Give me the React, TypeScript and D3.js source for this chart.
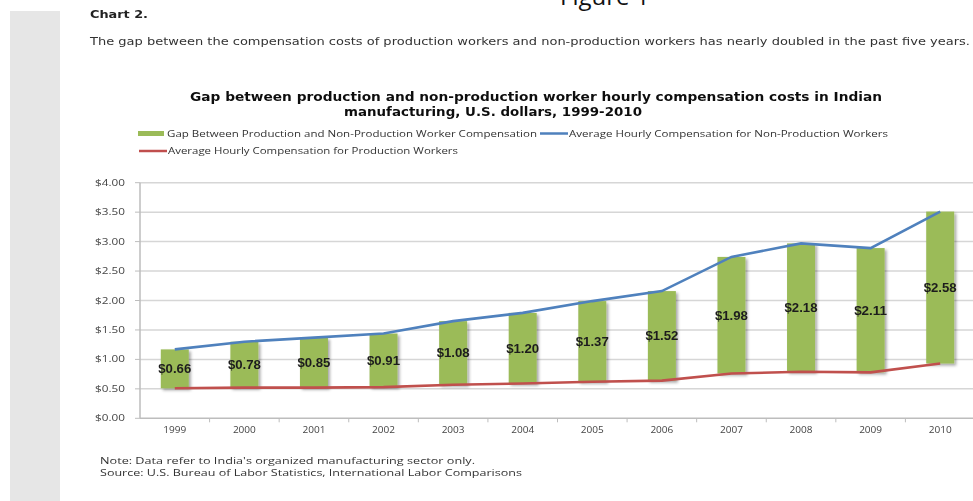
import React from "react";
import * as d3 from "d3";

const years = ["1999", "2000", "2001", "2002", "2003", "2004", "2005", "2006", "2007", "2008", "2009", "2010"];
const gapValues = [0.66, 0.78, 0.85, 0.91, 1.08, 1.2, 1.37, 1.52, 1.98, 2.18, 2.11, 2.58];
const productionValues = [0.51, 0.52, 0.52, 0.53, 0.57, 0.59, 0.62, 0.64, 0.76, 0.79, 0.78, 0.93];
const nonProductionValues = [1.17, 1.3, 1.37, 1.44, 1.65, 1.79, 1.99, 2.16, 2.74, 2.97, 2.89, 3.51];
const yTicks = [0, 0.5, 1, 1.5, 2, 2.5, 3, 3.5, 4];

const W = 973;
const H = 501;
const GREEN = "#9bbb59";
const BLUE = "#4f81bd";
const RED = "#c0504d";
const SANS = "'DejaVu Sans', Verdana, sans-serif";
const CAL = "'Open Sans', 'Liberation Sans', sans-serif";

export default function App() {
  const xb = d3.scaleBand<string>().domain(years).range([140, 975]);
  const y = d3.scaleLinear().domain([0, 4]).range([418.3, 182.7]);
  const fmt = d3.format("$.2f");
  const cx = (i: number) => (xb(years[i]) as number) + xb.bandwidth() / 2;

  const line = d3
    .line<number>()
    .x((_, i) => cx(i))
    .y((d) => y(d));

  return (
    <div style={{ position: "absolute", left: 0, top: 0 }}>
      <svg width={W} height={H} style={{ display: "block", background: "#fff" }}>
        <defs>
          <filter id="sh" x="-30%" y="-10%" width="170%" height="130%">
            <feDropShadow dx="2" dy="2" stdDeviation="1.5" floodColor="#000" floodOpacity="0.35" />
          </filter>
          <filter id="blur" x="-5%" y="-20%" width="110%" height="140%">
            <feGaussianBlur stdDeviation="0.35" />
          </filter>
        </defs>
        <rect x={10} y={11} width={50} height={H - 11} fill="#e6e6e6" />

        <text x={560} y={5} fontFamily={CAL} fontSize={24} fill="#111">Figure 1</text>

        <g filter="url(#blur)">
          <text x={90} y={18} fontFamily={SANS} fontSize={10.5} fontWeight="bold" fill="#222" textLength={58} lengthAdjust="spacingAndGlyphs">Chart 2.</text>
          <text x={90} y={45} fontFamily={SANS} fontSize={10.5} fill="#333" textLength={880} lengthAdjust="spacingAndGlyphs">
            The gap between the compensation costs of production workers and non-production workers has nearly doubled in the past five years.
          </text>

          <text x={190} y={101} fontFamily={SANS} fontSize={12.5} fontWeight="bold" fill="#111" textLength={692} lengthAdjust="spacingAndGlyphs">
            Gap between production and non-production worker hourly compensation costs in Indian
          </text>
          <text x={344} y={116} fontFamily={SANS} fontSize={12.5} fontWeight="bold" fill="#111" textLength={298} lengthAdjust="spacingAndGlyphs">
            manufacturing, U.S. dollars, 1999-2010
          </text>

          {/* legend */}
          <rect x={138} y={131} width={26} height={5} fill={GREEN} />
          <text x={167} y={137} fontFamily={CAL} fontSize={9.5} fill="#333" textLength={370} lengthAdjust="spacingAndGlyphs">
            Gap Between Production and Non-Production Worker Compensation
          </text>
          <line x1={540} x2={568} y1={133.5} y2={133.5} stroke={BLUE} strokeWidth={2.5} />
          <text x={569} y={137} fontFamily={CAL} fontSize={9.5} fill="#333" textLength={319} lengthAdjust="spacingAndGlyphs">
            Average Hourly Compensation for Non-Production Workers
          </text>
          <line x1={139} x2={167} y1={151} y2={151} stroke={RED} strokeWidth={2.5} />
          <text x={168} y={154} fontFamily={CAL} fontSize={9.5} fill="#333" textLength={290} lengthAdjust="spacingAndGlyphs">
            Average Hourly Compensation for Production Workers
          </text>

          {/* gridlines + y axis */}
          {yTicks.map((t) => (
            <g key={t}>
              <line x1={140} x2={975} y1={y(t)} y2={y(t)} stroke={t === 0 ? "#bdbdbd" : "#d6d6d6"} strokeWidth={1.5} />
              <line x1={135} x2={140} y1={y(t)} y2={y(t)} stroke="#bdbdbd" strokeWidth={1} />
              <text x={125} y={y(t) + 3} textAnchor="end" fontFamily={CAL} fontSize={9} fill="#444" textLength={30} lengthAdjust="spacingAndGlyphs">
                {fmt(t)}
              </text>
            </g>
          ))}
          <line x1={140} x2={140} y1={y(4)} y2={y(0)} stroke="#bdbdbd" strokeWidth={1.5} />

          {/* x axis ticks + labels */}
          {years.map((yr) => (
            <line key={"t" + yr} x1={(xb(yr) as number) + xb.bandwidth()} x2={(xb(yr) as number) + xb.bandwidth()} y1={y(0)} y2={y(0) + 4} stroke="#bdbdbd" />
          ))}
          {years.map((yr, i) => (
            <text key={"l" + yr} x={cx(i)} y={433} textAnchor="middle" fontFamily={CAL} fontSize={9.5} fill="#444" textLength={23} lengthAdjust="spacingAndGlyphs">
              {yr}
            </text>
          ))}
        </g>

        {/* bars */}
        <g filter="url(#sh)">
          {years.map((yr, i) => (
            <rect
              key={"b" + yr}
              x={cx(i) - 14}
              width={28}
              y={y(productionValues[i] + gapValues[i])}
              height={y(productionValues[i]) - y(productionValues[i] + gapValues[i])}
              fill={GREEN}
            />
          ))}
        </g>

        {/* lines */}
        <path d={line(nonProductionValues) as string} fill="none" stroke={BLUE} strokeWidth={2.6} />
        <path d={line(productionValues) as string} fill="none" stroke={RED} strokeWidth={2.6} />

        {/* bar labels */}
        <g filter="url(#blur)">
          {years.map((yr, i) => (
            <text
              key={"v" + yr}
              x={cx(i)}
              y={(y(productionValues[i]) + y(productionValues[i] + gapValues[i])) / 2 + 4.5}
              textAnchor="middle"
              fontFamily="'Liberation Sans', 'DejaVu Sans', sans-serif"
              fontWeight="bold"
              fontSize={12}
              fill="#1e1e1e"
              textLength={33}
              lengthAdjust="spacingAndGlyphs"
            >
              {fmt(gapValues[i])}
            </text>
          ))}

          <text x={100} y={464} fontFamily={CAL} fontSize={9} fill="#333" textLength={375} lengthAdjust="spacingAndGlyphs">
            Note: Data refer to India's organized manufacturing sector only.
          </text>
          <text x={100} y={476} fontFamily={CAL} fontSize={9} fill="#333" textLength={422} lengthAdjust="spacingAndGlyphs">
            Source: U.S. Bureau of Labor Statistics, International Labor Comparisons
          </text>
        </g>
      </svg>
    </div>
  );
}
